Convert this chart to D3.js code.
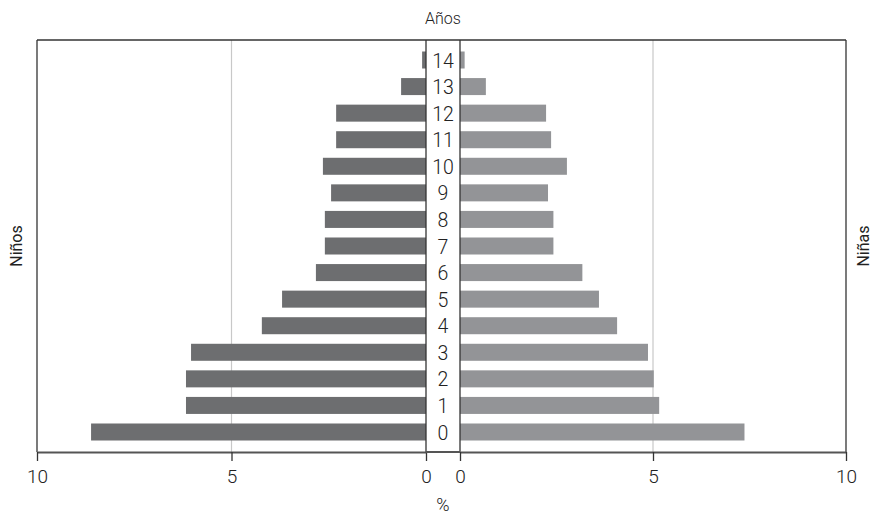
<!DOCTYPE html>
<html>
<head>
<meta charset="utf-8">
<script src="https://cdn.jsdelivr.net/npm/d3@7"></script>
<style>
  html, body { margin: 0; padding: 0; background: #fff; }
  svg text { font-family: Roboto, "Liberation Sans", sans-serif; font-weight: 300; fill: #222; }
</style>
</head>
<body>
<svg id="chart" width="874" height="514"></svg>
<script>
const ages = [0,1,2,3,4,5,6,7,8,9,10,11,12,13,14];
const ninos = [8.61,6.17,6.17,6.04,4.22,3.70,2.83,2.60,2.60,2.44,2.65,2.31,2.31,0.64,0.10];
const ninas = [7.37,5.16,5.02,4.87,4.07,3.60,3.17,2.42,2.42,2.28,2.77,2.36,2.23,0.67,0.12];
const ticks = [0,5,10];
const title = "Años";
const leftLabel = "Niños";
const rightLabel = "Niñas";
const xLabel = "%";

const svg = d3.select("#chart");
const plotTop = 40, plotBottom = 452;
const leftX0 = 426, leftX1 = 37, rightX0 = 460, rightX1 = 846;
const FONT = 'Roboto, "Liberation Sans", sans-serif';

const xL = d3.scaleLinear().domain([0,10]).range([leftX0, leftX1]);
const xR = d3.scaleLinear().domain([0,10]).range([rightX0, rightX1]);
const y = d3.scalePoint().domain(ages.slice().reverse()).range([60, 432]);
const barH = y.step() * 0.64;

// grid lines
svg.append("g").selectAll("line").data([5]).join("line")
  .attr("x1", d => xL(d)).attr("x2", d => xL(d)).attr("y1", plotTop).attr("y2", plotBottom)
  .attr("stroke", "#c8c8c8").attr("stroke-width", 1.2);
svg.append("g").selectAll("line").data([5]).join("line")
  .attr("x1", d => xR(d)).attr("x2", d => xR(d)).attr("y1", plotTop).attr("y2", plotBottom)
  .attr("stroke", "#c8c8c8").attr("stroke-width", 1.2);

// bars
svg.append("g").selectAll("rect").data(ages).join("rect")
  .attr("x", (d,i) => xL(ninos[i])).attr("width", (d,i) => xL(0) - xL(ninos[i]))
  .attr("y", d => y(d) - barH/2).attr("height", barH)
  .attr("fill", "#6d6e70");
svg.append("g").selectAll("rect").data(ages).join("rect")
  .attr("x", xR(0)).attr("width", (d,i) => xR(ninas[i]) - xR(0))
  .attr("y", d => y(d) - barH/2).attr("height", barH)
  .attr("fill", "#939497");

// frame
const frame = svg.append("g").attr("stroke", "#333").attr("fill", "none");
frame.append("line").attr("x1", leftX1).attr("x2", rightX1).attr("y1", plotTop).attr("y2", plotTop).attr("stroke-width", 1.3);
frame.append("line").attr("x1", leftX1).attr("x2", leftX1).attr("y1", plotTop).attr("y2", plotBottom).attr("stroke-width", 1.3);
frame.append("line").attr("x1", rightX1).attr("x2", rightX1).attr("y1", plotTop).attr("y2", plotBottom).attr("stroke-width", 1.3);
frame.append("line").attr("x1", leftX0).attr("x2", leftX0).attr("y1", plotTop).attr("y2", plotBottom).attr("stroke-width", 1.3);
frame.append("line").attr("x1", rightX0).attr("x2", rightX0).attr("y1", plotTop).attr("y2", plotBottom).attr("stroke-width", 1.3);

// bottom axes
const axL = d3.axisBottom(xL).tickValues(ticks).tickSize(9).tickSizeOuter(0).tickPadding(9);
const axR = d3.axisBottom(xR).tickValues(ticks).tickSize(9).tickSizeOuter(0).tickPadding(9);
[axL, axR].forEach(ax => {
  const g = svg.append("g").attr("transform", `translate(0,${plotBottom})`).call(ax);
  g.select(".domain").attr("stroke", "#555").attr("stroke-width", 2);
  g.selectAll(".tick line").attr("stroke", "#333").attr("stroke-width", 1.3);
  g.selectAll(".tick text").attr("font-size", 19).attr("fill", "#222")
    .style("font-family", FONT).style("font-weight", 300);
});
svg.append("line").attr("x1", leftX0).attr("x2", rightX0).attr("y1", plotBottom).attr("y2", plotBottom)
  .attr("stroke", "#555").attr("stroke-width", 2);

// age labels
svg.append("g").selectAll("text").data(ages).join("text")
  .attr("x", (leftX0 + rightX0) / 2).attr("y", d => y(d) + 1)
  .attr("text-anchor", "middle").attr("dominant-baseline", "central")
  .attr("font-size", 19.5).text(d => d);

// titles
svg.append("text").attr("x", 443).attr("y", 24).attr("text-anchor", "middle").attr("font-size", 16).text(title);
svg.append("text").attr("x", 443).attr("y", 511).attr("text-anchor", "middle").attr("font-size", 18).text(xLabel);
svg.append("text").attr("transform", "translate(22,246) rotate(-90)").attr("text-anchor", "middle").attr("font-size", 16).style("font-weight", 400).text(leftLabel);
svg.append("text").attr("transform", "translate(869,246) rotate(-90)").attr("text-anchor", "middle").attr("font-size", 16).style("font-weight", 400).text(rightLabel);
</script>
</body>
</html>
